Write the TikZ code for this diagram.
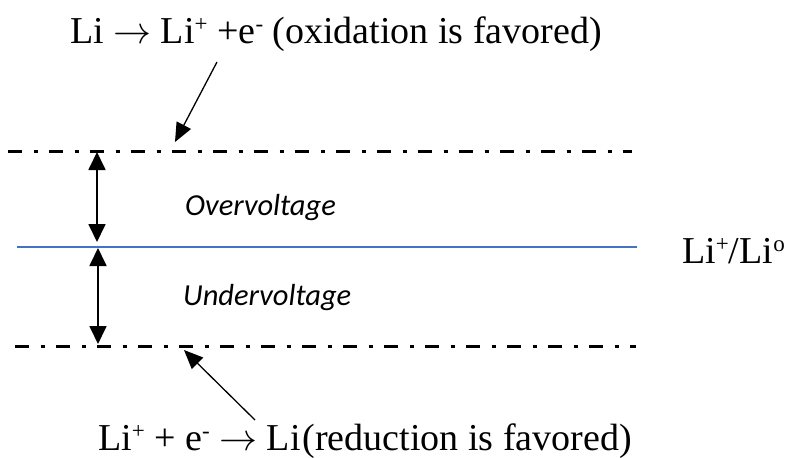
\RequirePackage{fix-cm}
\documentclass[tikz,border=0pt]{standalone}
\usepackage{fontspec}
\setmainfont{Liberation Serif}
\newfontfamily\calib{Carlito}
\usetikzlibrary{arrows.meta}
\definecolor{officeblue}{RGB}{68,114,196}
\tikzset{
  dashdot/.style={line width=3pt, dash pattern=on 14pt off 11.5pt on 4pt off 11.5pt},
  dbl/.style={line width=1.8pt, {Triangle[length=18pt,width=17pt]}-{Triangle[length=18pt,width=17pt]}},
  ptr/.style={line width=1.3pt, -{Triangle[length=19pt,width=16pt]}},
  chem/.style={inner sep=0pt, anchor=base west, font=\fontsize{38}{44}\selectfont},
  ital/.style={inner sep=0pt, anchor=base west, font=\calib\itshape\fontsize{30.5}{36}\selectfont}
}
\newcommand{\rarr}{$\rightarrow$}
\newcommand{\sups}[1]{\raisebox{12pt}{\fontsize{23}{23}\selectfont #1}}
\begin{document}
\begin{tikzpicture}[x=1pt,y=-1pt]
\useasboundingbox (0,0) rectangle (788,458);
% lines
\coordinate (t1) at (8,151);
\coordinate (t2) at (632,151);
\coordinate (m1) at (17,247);
\coordinate (m2) at (637,247);
\coordinate (b1) at (15,346);
\coordinate (b2) at (636,346);
\draw[dashdot] (t1) -- (t2);
\draw[dashdot] (b1) -- (b2);
\draw[officeblue, line width=1.4pt] (m1) -- (m2);
% double arrows
\coordinate (a1) at (97,152);
\coordinate (a2) at (97,242);
\coordinate (a3) at (98,248);
\coordinate (a4) at (98,344);
\draw[dbl] (a1) -- (a2);
\draw[dbl] (a3) -- (a4);
% texts
\node[chem] (ox) at (70,43) {Li \rarr{} Li\sups{+} +e\sups{-} (oxidation is favored)};
\node[chem] (red) at (98,450) {Li\sups{+} + e\sups{-} \rarr{} Li\kern2pt(reduction is favored)};
\node[chem] (ref) at (682,263) {Li\sups{+}/Li\sups{o}};
\node[ital] (ov) at (185,215) {Overvoltage};
\node[ital] (un) at (183,305) {Undervoltage};
% pointers
\coordinate (p1) at (217,62);
\coordinate (p2) at (175,142);
\coordinate (q1) at (255,420);
\coordinate (q2) at (184,350);
\draw[ptr] (p1) -- (p2);
\draw[ptr] (q1) -- (q2);
\end{tikzpicture}
\end{document}
